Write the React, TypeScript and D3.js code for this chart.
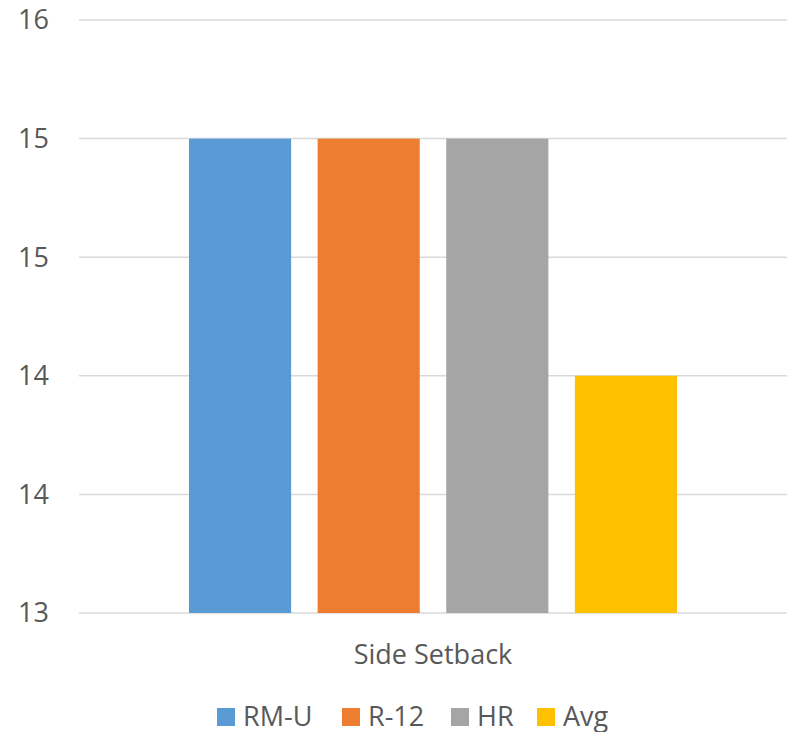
import React from "react";
import * as d3 from "d3";

const categories = ["Side Setback"];
const seriesNames = ["RM-U", "R-12", "HR", "Avg"];
const seriesColors = ["#5B9BD5", "#ED7D31", "#A5A5A5", "#FFC000"];
const seriesValues = [15.4, 15.4, 15.4, 14.2];
const yTicks = [13, 13.6, 14.2, 14.8, 15.4, 16];

const W = 787;
const H = 732;
const plot = { left: 79, right: 787, top: 20, bottom: 613 };
const font = "'Open Sans', 'DejaVu Sans', sans-serif";
const textColor = "#595959";
const fontSize = 27;

export default function App() {
  const y = d3.scaleLinear().domain([13, 16]).range([plot.bottom, plot.top]);
  const x0 = d3
    .scaleBand<string>()
    .domain(categories)
    .range([plot.left, plot.right])
    .paddingInner(0)
    .paddingOuter(0.2254);
  const x1 = d3
    .scaleBand<string>()
    .domain(seriesNames)
    .range([0, x0.bandwidth()])
    .paddingInner(0.206)
    .paddingOuter(0);
  const fmt = d3.format(".0f");

  const legendItems = [
    { name: "RM-U", x: 217 },
    { name: "R-12", x: 342 },
    { name: "HR", x: 451 },
    { name: "Avg", x: 537 },
  ];

  return (
    <svg
      width={W}
      height={H}
      style={{ position: "absolute", left: 0, top: 0, background: "#fff" }}
      fontFamily={font}
    >
      {yTicks.map((t, i) => (
        <g key={i}>
          <line
            x1={plot.left}
            x2={plot.right}
            y1={y(t)}
            y2={y(t)}
            stroke="#D9D9D9"
            strokeWidth={1.5}
          />
          <text
            x={49}
            y={y(t)}
            dy="0.35em"
            textAnchor="end"
            fontSize={fontSize}
            fill={textColor}
          >
            {fmt(t)}
          </text>
        </g>
      ))}
      {categories.map((c) => (
        <g key={c} transform={`translate(${x0(c)},0)`}>
          {seriesNames.map((s, i) => (
            <rect
              key={s}
              x={x1(s)}
              y={y(seriesValues[i])}
              width={x1.bandwidth()}
              height={y(13) - y(seriesValues[i])}
              fill={seriesColors[i]}
            />
          ))}
          <text
            x={x0.bandwidth() / 2}
            y={655}
            dy="0.35em"
            textAnchor="middle"
            fontSize={fontSize}
            fill={textColor}
          >
            {c}
          </text>
        </g>
      ))}
      {legendItems.map((l, i) => (
        <g key={l.name}>
          <rect x={l.x} y={708} width={18} height={18} fill={seriesColors[i]} />
          <text x={l.x + 26} y={717} dy="0.35em" fontSize={fontSize} fill={textColor}>
            {l.name}
          </text>
        </g>
      ))}
    </svg>
  );
}
